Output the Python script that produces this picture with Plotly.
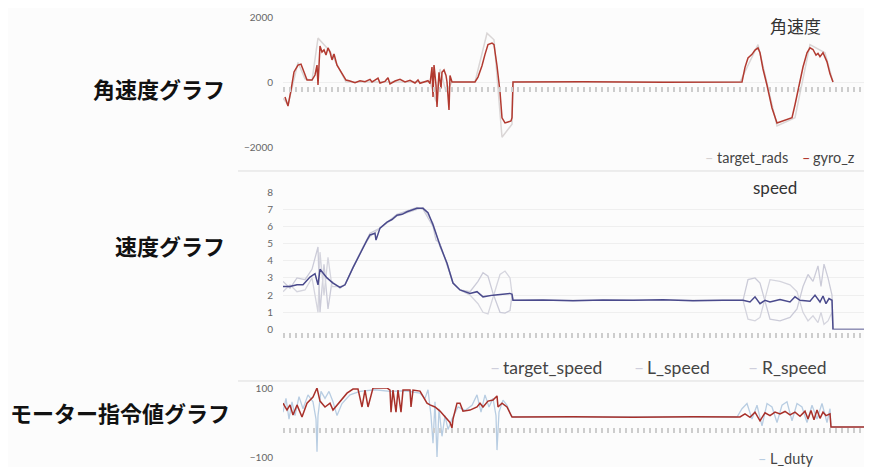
import plotly.graph_objects as go

# page is rendered with an 8px body margin, so the figure is drawn 8px smaller and shifted
OFF = 8
W, H = 872 - OFF, 467 - OFF

# ---------------- data (sample index, value) ----------------
gyro_t = [2, 5, 8, 11, 15, 18, 21, 24, 29, 32, 34, 35, 37, 39, 41, 43, 45, 47, 49, 51, 54, 57, 60, 63,
          67, 72, 77, 82, 87, 89, 92, 95, 97, 102, 105, 107, 112, 117, 122, 127, 132, 135, 137, 142, 145, 147,
          149, 150, 151, 153, 154, 156, 158, 159, 161, 163, 164, 166, 167, 169, 192, 195, 199, 202, 205, 209,
          211, 214, 217, 219, 222, 225, 228, 229, 230, 300, 380, 459, 462, 465, 469, 472, 475, 477, 480, 484,
          489, 494, 499, 504, 509, 512, 516, 520, 524, 527, 530, 533, 535, 537, 540, 542, 544, 547, 550]
gyro_z = [-460, -740, -250, 310, 520, 550, 310, 60, 60, 215, 520, -90, 1110, 920, 985, 830, 1050, 920, 680, 860,
          520, 370, 185, 60, 30, -20, 40, 10, 80, 0, 60, 120, -30, 20, 130, -60, 30, 80, 0, 50, -30, 60, -40, 20,
          40, -50, 460, -460, 520, -100, -770, 300, -200, 300, 370, 200, 0, -860, 200, 0, 0, 150, 500, 850, 1150,
          1200, 1150, 500, -300, -1100, -1260, -1230, -1200, -1100, 0, 10, -10, 0, 450, 740, 850, 980, 1050, 900,
          400, -100, -800, -1260, -1200, -1150, -1100, -700, -100, 460, 900, 1050, 1000, 830, 880, 780, 900, 750,
          620, 250, 0]

rads_t = [0, 5, 15, 22, 29, 35, 47, 63, 147, 153, 157, 163, 169, 192, 204, 211, 219, 229, 230, 457, 475, 494,
          512, 527, 542, 550]
target_rads = [-500, -700, 600, 100, 50, 1350, 950, 0, 0, -600, 400, -300, 0, 0, 1500, 1300, -1700, -1300, 0, 0,
               1150, -1350, -1100, 1150, 900, 0]

spd_t = [0, 7, 14, 20, 27, 32, 35, 37, 44, 50, 57, 62, 70, 76, 80, 84, 87, 92, 93, 97, 104, 109, 114, 119, 124,
         129, 134, 140, 145, 150, 157, 164, 170, 177, 187, 194, 200, 210, 217, 227, 229, 230, 260, 290, 320, 350,
         380, 410, 440, 460, 467, 472, 477, 482, 487, 497, 507, 512, 517, 527, 532, 537, 540, 543, 546, 549, 550, 584]
target_speed = [2.5, 2.5, 2.6, 2.6, 3.05, 3.25, 2.6, 3.5, 3.0, 2.7, 2.45, 2.6, 3.6, 4.3, 4.8, 5.2, 5.5, 5.6, 5.2,
                5.9, 6.25, 6.4, 6.65, 6.7, 6.85, 6.95, 7.05, 7.05, 6.8, 6.1, 4.9, 3.85, 2.7, 2.3, 2.1, 2.2, 1.9,
                2.0, 2.05, 2.1, 2.05, 1.7, 1.72, 1.68, 1.72, 1.7, 1.73, 1.68, 1.7, 1.7, 1.6, 1.9, 1.5, 1.7, 1.6,
                1.75, 1.6, 1.9, 1.7, 1.65, 2.0, 1.6, 1.95, 1.5, 1.8, 1.7, 0, 0]

lr_t = [0, 7, 14, 22, 29, 35, 37, 41, 45, 49, 57, 62, 70, 80, 87, 97, 114, 134, 140, 150, 153, 157, 164, 170,
        177, 187, 195, 200, 205, 210, 217, 222, 227, 229, 230, 460, 465, 472, 477, 482, 487, 497, 507, 514, 520,
        525, 530, 535, 538, 541, 545, 549, 550, 584]
L_speed = [2.8, 2.4, 3.0, 2.9, 3.5, 4.8, 1.0, 3.8, 1.2, 2.8, 2.4, 2.6, 3.6, 4.8, 5.6, 5.9, 6.7, 7.1, 7.0, 6.0,
           5.2, 5.0, 3.8, 2.7, 2.3, 2.2, 2.8, 3.3, 3.1, 2.1, 1.0, 0.95, 1.1, 2.0, 1.7, 1.7, 2.9, 3.0, 2.7, 1.7,
           0.6, 0.5, 0.7, 1.2, 2.5, 3.2, 2.8, 3.7, 2.5, 3.8, 3.0, 2.0, 0, 0]
R_speed = [2.2, 2.6, 2.2, 2.3, 3.0, 1.0, 4.5, 2.0, 4.2, 2.5, 2.5, 2.6, 3.6, 4.8, 5.4, 5.9, 6.6, 7.0, 7.1, 6.2,
           5.6, 4.8, 3.9, 2.7, 2.3, 2.0, 1.5, 1.0, 0.9, 1.9, 3.2, 3.4, 3.0, 2.1, 1.7, 1.7, 0.6, 0.5, 0.7, 1.8,
           2.9, 2.8, 2.6, 2.2, 1.0, 0.5, 0.8, 0.4, 1.0, 0.3, 0.5, 1.0, 0, 0]

ld_t = [0, 4, 7, 10, 14, 19, 24, 30, 34, 37, 42, 47, 50, 57, 64, 70, 75, 79, 82, 85, 89, 90, 97, 104, 107, 108,
        110, 113, 115, 118, 120, 127, 128, 130, 137, 140, 144, 147, 152, 157, 162, 167, 169, 170, 174, 177, 180,
        187, 194, 197, 200, 205, 210, 214, 215, 219, 224, 229, 230, 290, 350, 410, 457, 462, 467, 472, 477, 482,
        487, 492, 497, 502, 507, 512, 517, 522, 525, 528, 531, 534, 537, 540, 543, 547, 548, 584]
L_duty = [56, 36, 51, 22, 51, 16, 56, 74, 100, 62, 45, 56, 36, 62, 85, 97, 97, 45, 94, 45, 94, 100, 100, 100, 94,
          30, 94, 30, 94, 30, 94, 94, 45, 94, 91, 74, 56, 51, 45, 33, 16, 0, -16, 10, 56, 56, 33, 36, 45, 56, 45,
          62, 65, 77, 45, 56, 45, 16, 16, 17, 15, 17, 16, 25, 15, 30, 5, 28, 20, 30, 25, 32, 22, 30, 18, 33, 10,
          35, 8, 36, 12, 30, 20, 25, -13, -13]

rd_t = [0, 3, 6, 9, 12, 16, 20, 25, 30, 33, 34, 35, 38, 42, 46, 50, 54, 59, 67, 77, 92, 107, 122, 137, 142, 145,
        148, 150, 152, 154, 156, 159, 162, 165, 169, 175, 182, 189, 194, 198, 202, 206, 210, 213, 214, 216, 220,
        224, 228, 230, 454, 459, 464, 469, 474, 479, 484, 489, 494, 499, 504, 509, 514, 519, 524, 529, 534, 539,
        544, 547, 548, 584]
R_duty = [30, 70, 10, 60, 20, 75, 40, 80, 60, 10, -85, 20, 90, 70, 90, 60, 20, 55, 80, 90, 95, 90, 92, 85, 70, 95,
          20, -60, 60, -100, 40, -40, 20, -20, 10, 45, 35, 50, 80, 30, 80, 45, 70, 20, -80, 30, 65, 50, 20, 16, 16,
          40, 55, 10, 50, -10, 55, 45, 0, 50, 60, 5, 55, 45, 0, 50, 10, 55, 0, 40, -13, -13]

gyro_ticks = [-2000, 0, 2000]
speed_ticks = [0, 1, 2, 3, 4, 5, 6, 7, 8]
duty_ticks = [-100, 100]

# ---------------- layout helpers (page pixels -> paper) ----------------
def px(x):
    return (x - OFF) / W

def py(y):
    return 1 - (y - OFF) / H

LATIN = "Lato, 'Noto Sans', sans-serif"
CJK = "'Noto Sans CJK JP', sans-serif"
BG = "#fcfcfc"

fig = go.Figure()

# top: angular velocity
fig.add_trace(go.Scatter(x=rads_t, y=target_rads, mode="lines", line=dict(color="#dad6d6", width=1.5),
                         name="target_rads", xaxis="x", yaxis="y"))
fig.add_trace(go.Scatter(x=gyro_t, y=gyro_z, mode="lines", line=dict(color="#b23a30", width=1.5),
                         name="gyro_z", xaxis="x", yaxis="y"))
# middle: speed
fig.add_trace(go.Scatter(x=lr_t, y=L_speed, mode="lines", line=dict(color="#cbcbd8", width=1.3),
                         name="L_speed", xaxis="x2", yaxis="y2"))
fig.add_trace(go.Scatter(x=lr_t, y=R_speed, mode="lines", line=dict(color="#d5d5de", width=1.3),
                         name="R_speed", xaxis="x2", yaxis="y2"))
fig.add_trace(go.Scatter(x=spd_t, y=target_speed, mode="lines", line=dict(color="#4a4a8c", width=1.5),
                         name="target_speed", xaxis="x2", yaxis="y2"))
# bottom: motor duty
fig.add_trace(go.Scatter(x=rd_t, y=R_duty, mode="lines", line=dict(color="#b8cde2", width=1.3),
                         name="R_duty", xaxis="x3", yaxis="y3"))
fig.add_trace(go.Scatter(x=ld_t, y=L_duty, mode="lines", line=dict(color="#a8302a", width=1.5),
                         name="L_duty", xaxis="x3", yaxis="y3"))

xdom = [px(283), px(870)]
xr = [0, 587]
common_x = dict(domain=xdom, range=xr, showgrid=False, zeroline=False, showline=False,
                showticklabels=False, ticks="outside", ticklen=5, tickwidth=2, tickcolor="#cdcdcd",
                dtick=6, tick0=1, anchor="free", automargin=False)
ytick = dict(showline=False, zeroline=False, ticks="", gridcolor="#efefef", gridwidth=1, automargin=False,
             tickfont=dict(family=LATIN, size=10, color="#666666"), ticklabelstandoff=9)

fig.update_layout(
    width=W, height=H, margin=dict(l=0, r=0, t=0, b=0, pad=0, autoexpand=False),
    paper_bgcolor=BG, plot_bgcolor=BG, showlegend=False,
    xaxis=dict(**common_x, position=py(86)),
    xaxis2=dict(**common_x, position=py(332)),
    xaxis3=dict(**common_x, position=py(427)),
    yaxis=dict(**ytick, domain=[py(147), py(17)], range=[-2000, 2000], tickvals=gyro_ticks, anchor="x"),
    yaxis2=dict(**ytick, domain=[py(329.5), py(192)], range=[0, 8], tickvals=speed_ticks, anchor="x2"),
    yaxis3=dict(**ytick, domain=[py(457), py(388)], range=[-100, 100], tickvals=duty_ticks, anchor="x3"),
)

# separator lines between the chart panels
for yy in (171, 381):
    fig.add_shape(type="line", xref="paper", yref="paper", x0=px(238), x1=1, y0=py(yy), y1=py(yy),
                  line=dict(color="#dddddd", width=1))

def ann(text, x, y, size, color="#333333", family=LATIN, xanchor="left", bold=False):
    if bold:
        text = "<b>" + text + "</b>"
    fig.add_annotation(text=text, x=px(x), y=py(y), xref="paper", yref="paper", showarrow=False,
                       xanchor=xanchor, yanchor="middle", borderpad=0,
                       font=dict(family=family, size=size, color=color))

# left side labels
ann("角速度グラフ", 226, 88, 22, "#111111", CJK, "right", True)
ann("速度グラフ", 226, 245, 22, "#111111", CJK, "right", True)
ann("モーター指令値グラフ", 231, 412, 22, "#111111", CJK, "right", True)

# chart titles
ann("角速度", 795, 26, 17, "#333333", CJK, "center")
ann("speed", 775, 187, 17, "#333333", LATIN, "center")

# legends (short coloured dash + label)
def legend_item(label, dash_color, x_dash, x_text, y, size):
    ann("<span style='color:%s'>–</span>" % dash_color, x_dash, y, size, "#444444")
    ann(label, x_text, y, size, "#444444")

legend_item("target_rads", "#d6d2d2", 704, 716, 158, 14.5)
legend_item("gyro_z", "#b23a30", 801, 812, 158, 14.5)
legend_item("target_speed", "#cfcfdc", 489, 502, 367, 17.5)
legend_item("L_speed", "#cfcfdc", 633, 646, 367, 17.5)
legend_item("R_speed", "#cfcfdc", 747, 761, 367, 17.5)
legend_item("L_duty", "#b8cde2", 757, 769, 458, 14.5)

fig.write_html("out.html")
